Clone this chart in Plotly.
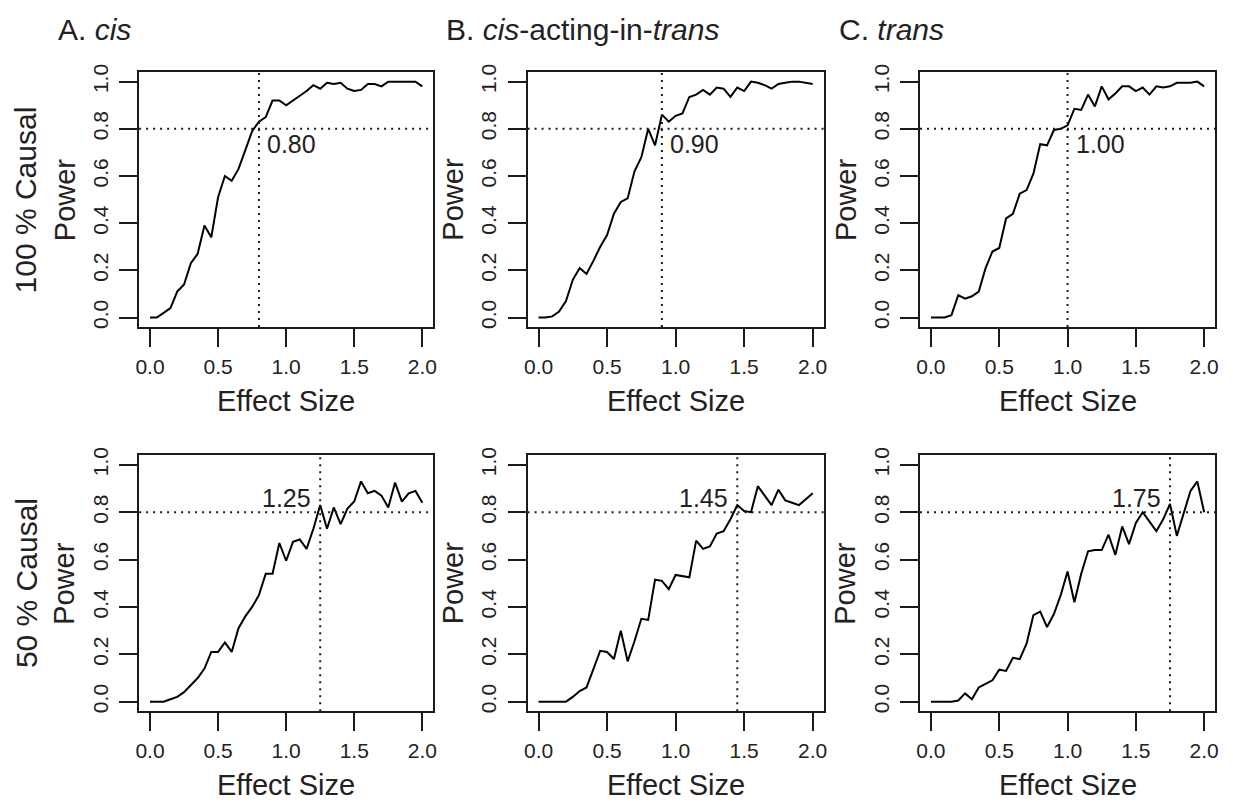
import plotly.graph_objects as go

# ---------------- data ----------------
effect_size = [0.00, 0.05, 0.10, 0.15, 0.20, 0.25, 0.30, 0.35, 0.40, 0.45,
               0.50, 0.55, 0.60, 0.65, 0.70, 0.75, 0.80, 0.85, 0.90, 0.95,
               1.00, 1.05, 1.10, 1.15, 1.20, 1.25, 1.30, 1.35, 1.40, 1.45,
               1.50, 1.55, 1.60, 1.65, 1.70, 1.75, 1.80, 1.85, 1.90, 1.95, 2.00]

power_cis_100 = [0.00, 0.00, 0.02, 0.04, 0.11, 0.14, 0.23, 0.27, 0.39, 0.34,
                 0.51, 0.60, 0.58, 0.63, 0.71, 0.79, 0.83, 0.85, 0.92, 0.92,
                 0.90, 0.92, 0.94, 0.96, 0.985, 0.97, 0.995, 0.99, 0.995, 0.97,
                 0.96, 0.965, 0.99, 0.99, 0.98, 1.00, 1.00, 1.00, 1.00, 1.00, 0.98]

power_cisacting_100 = [0.00, 0.00, 0.005, 0.025, 0.07, 0.16, 0.21, 0.185, 0.24, 0.30,
                       0.35, 0.44, 0.49, 0.505, 0.62, 0.68, 0.80, 0.73, 0.86, 0.83,
                       0.855, 0.865, 0.935, 0.945, 0.965, 0.945, 0.975, 0.97, 0.935, 0.975,
                       0.96, 1.00, 0.995, 0.985, 0.97, 0.99, 0.995, 1.00, 1.00, 0.995, 0.99]

power_trans_100 = [0.00, 0.00, 0.00, 0.01, 0.095, 0.08, 0.09, 0.11, 0.21, 0.28,
                   0.295, 0.42, 0.44, 0.525, 0.54, 0.61, 0.735, 0.73, 0.795, 0.80,
                   0.815, 0.885, 0.88, 0.945, 0.895, 0.98, 0.925, 0.95, 0.98, 0.98,
                   0.96, 0.975, 0.945, 0.98, 0.975, 0.98, 0.995, 0.995, 0.995, 1.00, 0.98]

power_cis_50 = [0.00, 0.00, 0.00, 0.01, 0.02, 0.04, 0.07, 0.10, 0.14, 0.21,
                0.21, 0.25, 0.21, 0.31, 0.36, 0.40, 0.45, 0.54, 0.54, 0.67,
                0.595, 0.675, 0.685, 0.645, 0.73, 0.83, 0.73, 0.82, 0.75, 0.815,
                0.845, 0.93, 0.88, 0.89, 0.87, 0.82, 0.925, 0.845, 0.88, 0.89, 0.84]

power_cisacting_50 = [0.00, 0.00, 0.00, 0.00, 0.00, 0.02, 0.045, 0.06, 0.135, 0.215,
                      0.21, 0.18, 0.30, 0.17, 0.255, 0.35, 0.345, 0.515, 0.51, 0.475,
                      0.535, 0.53, 0.525, 0.68, 0.645, 0.655, 0.71, 0.72, 0.77, 0.83,
                      0.805, 0.80, 0.91, 0.87, 0.83, 0.895, 0.85, 0.84, 0.83, 0.855, 0.88]

power_trans_50 = [0.00, 0.00, 0.00, 0.00, 0.005, 0.035, 0.01, 0.06, 0.075, 0.09,
                  0.135, 0.13, 0.185, 0.18, 0.245, 0.365, 0.38, 0.315, 0.37, 0.45,
                  0.55, 0.42, 0.54, 0.635, 0.64, 0.64, 0.705, 0.62, 0.74, 0.665,
                  0.755, 0.80, 0.76, 0.72, 0.77, 0.835, 0.70, 0.80, 0.89, 0.93, 0.80]

threshold_effect = [0.80, 0.90, 1.00, 1.25, 1.45, 1.75]
threshold_labels = ["0.80", "0.90", "1.00", "1.25", "1.45", "1.75"]
power_level = 0.8

panel_titles = ["A. <i>cis</i>", "B. <i>cis</i>-acting-in-<i>trans</i>", "C. <i>trans</i>"]
row_labels = ["100 % Causal", "50 % Causal"]
x_ticks = [0.0, 0.5, 1.0, 1.5, 2.0]
x_ticktext = ["0.0", "0.5", "1.0", "1.5", "2.0"]
y_ticks = [0.0, 0.2, 0.4, 0.6, 0.8, 1.0]
y_ticktext = ["0.0", "0.2", "0.4", "0.6", "0.8", "1.0"]

series = [power_cis_100, power_cisacting_100, power_trans_100,
          power_cis_50, power_cisacting_50, power_trans_50]

# ---------------- layout geometry (pixels) ----------------
W, H = 1233, 804
col_px = [(136, 432), (527, 825), (922, 1219)]
row_px = [(65, 323), (453, 712)]

FONT = "Liberation Sans, Arial, Helvetica, sans-serif"
INK = "#1a1a1a"
TXT = "#222"

fig = go.Figure()
layout = dict(
    width=W, height=H, margin=dict(l=0, r=0, t=0, b=0),
    paper_bgcolor="white", plot_bgcolor="white", showlegend=False,
    font=dict(family=FONT, color="black"),
)
annotations = []
shapes = []


def px_x(p):
    return p / W


def px_y(p):
    return 1 - p / H


for r in range(2):
    for c in range(3):
        k = r * 3 + c
        idx = k + 1
        xa = "xaxis" if idx == 1 else f"xaxis{idx}"
        ya = "yaxis" if idx == 1 else f"yaxis{idx}"
        xr = "x" if idx == 1 else f"x{idx}"
        yr = "y" if idx == 1 else f"y{idx}"
        x0, x1 = col_px[c]
        y0, y1 = row_px[r]
        layout[xa] = dict(
            domain=[px_x(x0), px_x(x1)], anchor=yr, range=[-0.08, 2.08],
            tickvals=x_ticks, ticktext=x_ticktext, ticks="outside", ticklen=18,
            tickwidth=1.6, tickcolor=INK, showline=True, linecolor=INK, linewidth=2,
            mirror=True, showgrid=False, zeroline=False,
            tickfont=dict(size=21, family=FONT, color=TXT), ticklabelstandoff=2,
        )
        layout[ya] = dict(
            domain=[px_y(y1), px_y(y0)], anchor=xr, range=[-0.04, 1.04],
            tickvals=y_ticks, ticktext=y_ticktext, ticks="outside", ticklen=18,
            tickwidth=1.6, tickcolor=INK, showline=True, linecolor=INK, linewidth=2,
            mirror=True, showgrid=False, zeroline=False, tickangle=-90,
            tickfont=dict(size=21, family=FONT, color=TXT), ticklabelstandoff=3,
        )
        fig.add_trace(go.Scatter(
            x=effect_size, y=series[k], mode="lines", xaxis=xr, yaxis=yr,
            line=dict(color="black", width=2), hoverinfo="x+y",
        ))
        # dotted reference lines
        shapes.append(dict(type="line", xref=f"{xr} domain", yref=yr,
                           x0=0, x1=1, y0=power_level, y1=power_level,
                           line=dict(color=INK, width=2, dash="2px,5px")))
        shapes.append(dict(type="line", xref=xr, yref=f"{yr} domain",
                           x0=threshold_effect[k], x1=threshold_effect[k], y0=0, y1=1,
                           line=dict(color=INK, width=2, dash="2px,5px")))
        # threshold label
        if r == 0:
            annotations.append(dict(xref=xr, yref=yr, x=threshold_effect[k], y=power_level,
                                    text=threshold_labels[k], showarrow=False,
                                    xanchor="left", yanchor="middle", xshift=6, yshift=-15,
                                    font=dict(size=25, family=FONT, color=TXT)))
        else:
            annotations.append(dict(xref=xr, yref=yr, x=threshold_effect[k], y=power_level,
                                    text=threshold_labels[k], showarrow=False,
                                    xanchor="right", yanchor="middle", xshift=-7, yshift=14,
                                    font=dict(size=25, family=FONT, color=TXT)))
        # axis titles
        annotations.append(dict(xref="paper", yref="paper",
                                x=px_x((x0 + x1) / 2), y=px_y(y1 + 75),
                                text="Effect Size", showarrow=False,
                                xanchor="center", yanchor="middle",
                                font=dict(size=29, family=FONT, color=TXT)))
        annotations.append(dict(xref="paper", yref="paper",
                                x=px_x(x0 - 75), y=px_y((y0 + y1) / 2),
                                text="Power", showarrow=False, textangle=-90,
                                xanchor="center", yanchor="middle",
                                font=dict(size=29, family=FONT, color=TXT)))

# panel titles
for c in range(3):
    annotations.append(dict(xref="paper", yref="paper",
                            x=px_x(col_px[c][0] - 84), y=px_y(22),
                            text=panel_titles[c], showarrow=False,
                            xanchor="left", yanchor="middle",
                            font=dict(size=30, family=FONT, color=TXT)))
# row labels
for r in range(2):
    annotations.append(dict(xref="paper", yref="paper",
                            x=px_x(22), y=px_y((row_px[r][0] + row_px[r][1]) / 2),
                            text=row_labels[r], showarrow=False, textangle=-90,
                            xanchor="center", yanchor="middle",
                            font=dict(size=30, family=FONT, color=TXT)))

layout["annotations"] = annotations
layout["shapes"] = shapes
fig.update_layout(**layout)

fig.write_html("out.html", config={"displayModeBar": False},
               post_script="document.body.style.margin='0';document.body.style.overflow='hidden';")
